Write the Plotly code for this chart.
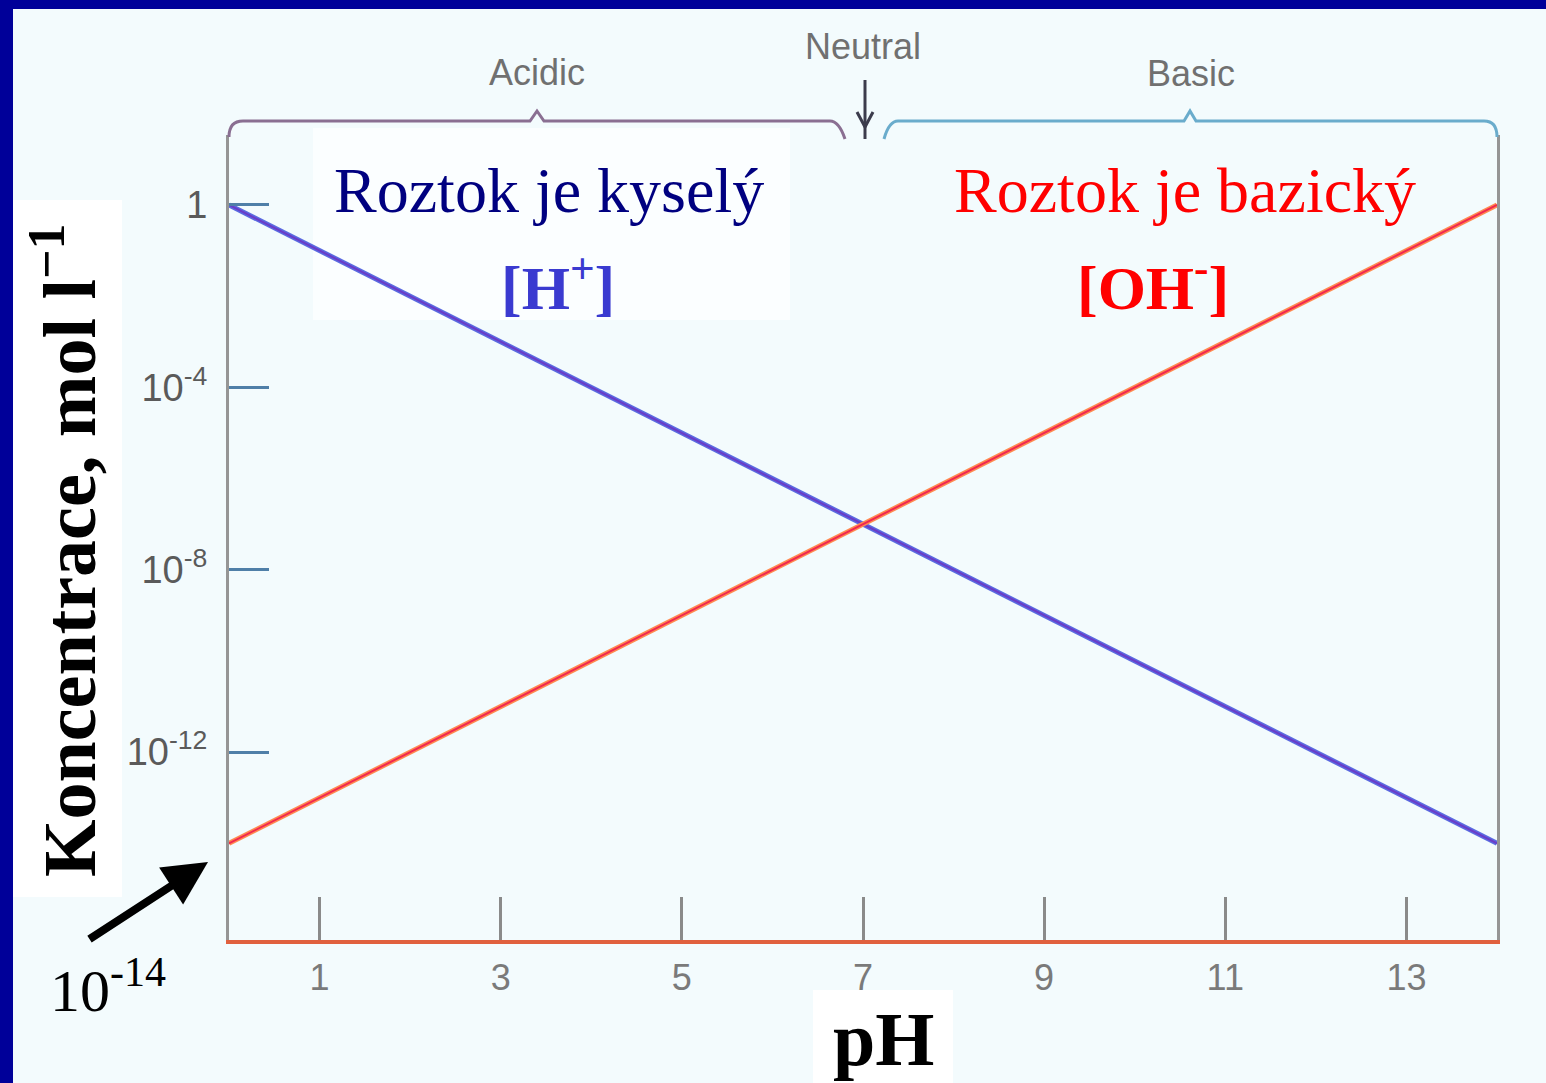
import plotly.graph_objects as go

# ---- data ----
ph = [0, 14]
h_plus = [1e0, 1e-14]
oh_minus = [1e-14, 1e0]
x_tickvals = [1, 3, 5, 7, 9, 11, 13]
x_ticktext = ["1", "3", "5", "7", "9", "11", "13"]
y_tickvals = [1e0, 1e-4, 1e-8, 1e-12]
y_ticktext = ["1", "10<sup>-4</sup>", "10<sup>-8</sup>", "10<sup>-12</sup>"]

W, H = 1546, 1083
L, R, T, B = 229, 1497, 135, 940


def px(x):
    return (x - L) / (R - L)


def py(y):
    return (B - y) / (B - T)


def pt(x, y):
    return f"{px(x):.5f},{py(y):.5f}"


serif = "Liberation Serif"
sans = "Liberation Sans"

fig = go.Figure()
fig.add_trace(go.Scatter(x=ph, y=h_plus, mode="lines",
                         line=dict(color="#5a6ae0", width=5), hoverinfo="skip"))
fig.add_trace(go.Scatter(x=ph, y=h_plus, mode="lines",
                         line=dict(color="#6a3cc8", width=2), hoverinfo="skip"))
fig.add_trace(go.Scatter(x=ph, y=oh_minus, mode="lines",
                         line=dict(color="#ff8a50", width=5), hoverinfo="skip"))
fig.add_trace(go.Scatter(x=ph, y=oh_minus, mode="lines",
                         line=dict(color="#f02850", width=2), hoverinfo="skip"))

shapes = []
# navy frame
shapes.append(dict(type="rect", xref="paper", yref="paper", x0=px(0), x1=px(13), y0=py(H), y1=py(0),
                   fillcolor="#000099", line_width=0, layer="below"))
shapes.append(dict(type="rect", xref="paper", yref="paper", x0=px(0), x1=px(W), y0=py(9), y1=py(0),
                   fillcolor="#000099", line_width=0, layer="below"))
# white boxes behind labels
shapes.append(dict(type="rect", xref="paper", yref="paper", x0=px(13), x1=px(122), y0=py(897), y1=py(200),
                   fillcolor="white", line_width=0, layer="below"))
shapes.append(dict(type="rect", xref="paper", yref="paper", x0=px(813), x1=px(953), y0=py(H), y1=py(990),
                   fillcolor="white", line_width=0, layer="below"))
shapes.append(dict(type="rect", xref="paper", yref="paper", x0=px(313), x1=px(790), y0=py(320), y1=py(128),
                   fillcolor="#fbfeff", line_width=0, layer="below"))
# brackets
left_br = "M {} Q {} {} L {} L {} L {} L {} Q {} {}".format(
    pt(229, 137), pt(229, 121), pt(243, 121), pt(530, 121), pt(537, 111), pt(544, 121),
    pt(830, 121), pt(839, 121), pt(845, 139))
right_br = "M {} Q {} {} L {} L {} L {} L {} Q {} {}".format(
    pt(884, 139), pt(889, 121), pt(898, 121), pt(1184, 121), pt(1190, 111), pt(1196, 121),
    pt(1484, 121), pt(1497, 121), pt(1497, 137))
shapes.append(dict(type="path", xref="paper", yref="paper", path=left_br,
                   line=dict(color="#8a6f92", width=3)))
shapes.append(dict(type="path", xref="paper", yref="paper", path=right_br,
                   line=dict(color="#6aaccc", width=3)))
# neutral arrow
shapes.append(dict(type="line", xref="paper", yref="paper", x0=px(865), x1=px(865), y0=py(80), y1=py(139),
                   line=dict(color="#3c3c4c", width=3)))
arrow_v = "M {} L {} L {}".format(pt(857, 112), pt(865, 127), pt(873, 112))
shapes.append(dict(type="path", xref="paper", yref="paper", path=arrow_v,
                   line=dict(color="#3c3c4c", width=3)))

annotations = []


def txt(text, x, y, size, color, family=serif, bold=False, angle=0):
    annotations.append(dict(text=f"<b>{text}</b>" if bold else text, xref="paper", yref="paper",
                            x=px(x), y=py(y), xanchor="center", yanchor="middle", showarrow=False,
                            textangle=angle, font=dict(family=family, size=size, color=color)))


txt("Roztok je kyselý", 549, 190, 64, "#000080")
txt("[H<sup>+</sup>]", 558, 283, 62, "#3a3ad0", bold=True)
txt("Roztok je bazický", 1185, 190, 64, "#ff0000")
txt("[OH<sup>-</sup>]", 1153, 283, 62, "#ff0000", bold=True)
txt("Koncentrace, mol l<sup>−1</sup>", 64, 551, 74, "#000000", bold=True, angle=-90)
txt("pH", 883, 1039, 76, "#000000", bold=True)
txt("10<sup>-14</sup>", 108, 986, 60, "#000000")
txt("Acidic", 537, 72, 36, "#707070", family=sans)
txt("Neutral", 863, 46, 36, "#707070", family=sans)
txt("Basic", 1191, 73, 36, "#707070", family=sans)

# black arrow pointing to 10^-14
annotations.append(dict(text="", xref="paper", yref="paper", x=px(208), y=py(862),
                        ax=88 - 208, ay=940 - 862, showarrow=True, arrowhead=2, arrowsize=1.1,
                        arrowwidth=8, arrowcolor="#000000", standoff=0, startstandoff=0))

fig.update_layout(
    width=W, height=H,
    margin=dict(l=L, r=W - R, t=T, b=H - B, autoexpand=False),
    paper_bgcolor="#f3fbfd",
    plot_bgcolor="rgba(0,0,0,0)",
    showlegend=False,
    shapes=shapes,
    annotations=annotations,
)
fig.update_xaxes(range=[0, 14], tickvals=x_tickvals, ticktext=x_ticktext,
                 ticks="inside", ticklen=43, tickwidth=3, tickcolor="#8a8a8a",
                 showgrid=False, zeroline=False, showline=True, linecolor="#e0603e", linewidth=4,
                 tickfont=dict(family=sans, size=36, color="#7a7a7a"), ticklabelstandoff=3)
fig.update_yaxes(type="log", range=[-16.12, 1.535], tickvals=y_tickvals, ticktext=y_ticktext,
                 ticks="inside", ticklen=40, tickwidth=3, tickcolor="#4f7fa8",
                 showgrid=False, zeroline=False, showline=True, mirror=True,
                 linecolor="#959595", linewidth=3,
                 tickfont=dict(family=sans, size=38, color="#5a5a5a"), ticklabelstandoff=11)

fig.write_html("out.html", config={"displayModeBar": False},
               post_script="document.body.style.margin='0';document.body.style.overflow='hidden';")
